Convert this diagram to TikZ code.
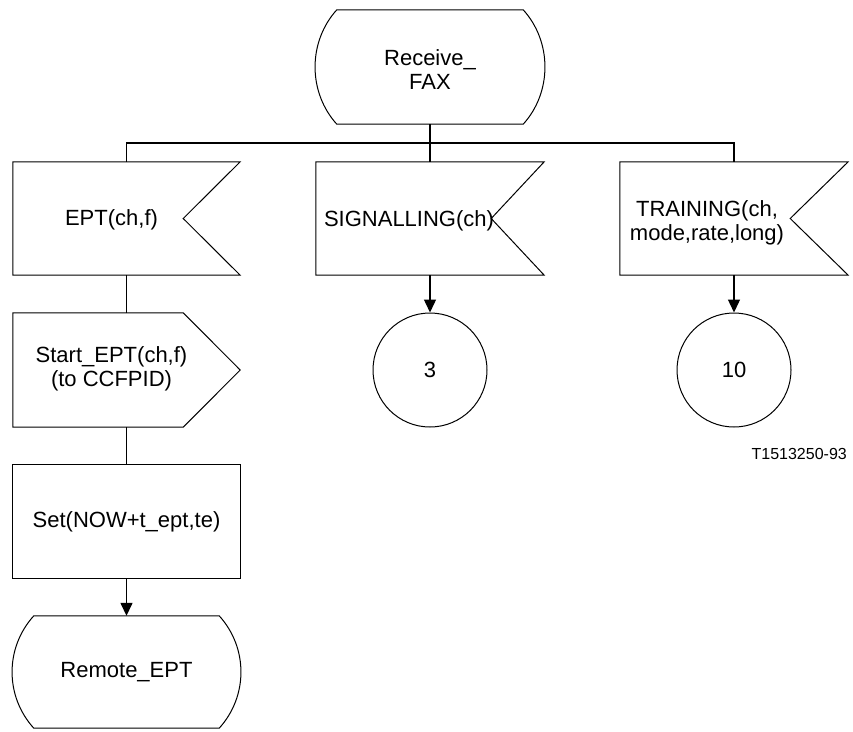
\documentclass[tikz,border=0pt]{standalone}
\usepackage{fontspec}
\setmainfont{Liberation Sans}
\usetikzlibrary{calc,arrows.meta}

% outlines drawn round a named (invisible) symbol node
\newcommand{\inputoutline}[2]{%
  \draw[sline] (#1.north west) -- (#1.north east) -- ($(#1.east)+(-#2,0)$)
    -- (#1.south east) -- (#1.south west) -- cycle;}
\newcommand{\outputoutline}[2]{%
  \draw[sline] (#1.north west) -- ($(#1.north east)+(-#2,0)$) -- (#1.east)
    -- ($(#1.south east)+(-#2,0)$) -- (#1.south west) -- cycle;}
\newcommand{\stateoutline}[1]{%
  \draw[sline] ($(#1.north west)+(22,0)$) -- ($(#1.north east)+(-22,0)$)
    .. controls ($(#1.north east)+(7,32)$) and ($(#1.south east)+(7,-32)$) .. ($(#1.south east)+(-22,0)$)
    -- ($(#1.south west)+(22,0)$)
    .. controls ($(#1.south west)+(-7,-32)$) and ($(#1.north west)+(-7,32)$) .. cycle;}

\begin{document}
\begin{tikzpicture}[x=1pt,y=-1pt,
          every node/.style={font=\fontsize{22}{24}\selectfont},
          sym/.style={rectangle,inner sep=0pt,minimum width=227pt,minimum height=113pt},
          txt/.style={align=center,inner sep=0pt},
          jump/.style={circle,draw,line width=1pt,minimum size=114pt,inner sep=0pt},
          sline/.style={line width=1pt,line join=miter},
          wire/.style={line width=1.4pt},
          arr/.style={wire,-{Triangle[length=13pt,width=12pt]}},
        ]
        \useasboundingbox (0,0) rectangle (853,731);
        % start
        \node[sym,minimum width=230pt,minimum height=114pt] (start) at (430,67) {};
        \stateoutline{start}
        \node[txt] (start-t) at ($(start)+(0,3)$) {Receive\_\\FAX};
        % inputs
        \node[sym] (ept) at (126.5,218.5) {};
        \inputoutline{ept}{57}
        \node[txt] (ept-t) at ($(ept)+(-15,1)$) {EPT(ch,f)};
        \node[sym,minimum width=228pt] (sig) at (430,218.5) {};
        \inputoutline{sig}{53}
        \node[txt] (sig-t) at ($(sig)+(-21,2)$) {SIGNALLING(ch)};
        \node[sym,minimum width=228pt] (trn) at (734,218.5) {};
        \inputoutline{trn}{58}
        \node[txt] (trn-t) at ($(trn)+(-27,4)$) {TRAINING(ch,\\mode,rate,long)};
        % left branch
        \node[sym,minimum height=114pt] (out) at (126.5,370) {};
        \outputoutline{out}{57}
        \node[txt] (out-t) at ($(out)+(-15,-1)$) {Start\_EPT(ch,f)\\(to CCFPID)};
        \node[sym] (set) at (126.5,521.5) {};
        \draw[sline] (set.north west) rectangle (set.south east);
        \node[txt] (set-t) at (set) {Set(NOW+t\_ept,te)};
        \node[sym,minimum width=229pt,minimum height=112pt] (remote) at (126.5,672) {};
        \stateoutline{remote}
        \node[txt] (remote-t) at (remote) {Remote\_EPT};
        % connectors
        \node[jump] (c3) at (430,370) {3};
        \node[jump] (c10) at (734,370) {10};
        \node[font=\fontsize{16}{18}\selectfont,anchor=base east,inner sep=0pt] (figid) at (847,459) {T1513250-93};
        \coordinate (bus) at (430,143);
        \draw[wire] (start.south) -- (sig.north);
        \draw[wire] (ept.north) |- (bus) -| (trn.north);
        \draw[wire] (ept.south) -- (out.north);
        \draw[wire] (out.south) -- (set.north);
        \draw[arr] (set.south) -- (remote.north);
        \draw[arr] (sig.south) -- (c3.north);
        \draw[arr] (trn.south) -- (c10.north);
      \end{tikzpicture}
\end{document}
